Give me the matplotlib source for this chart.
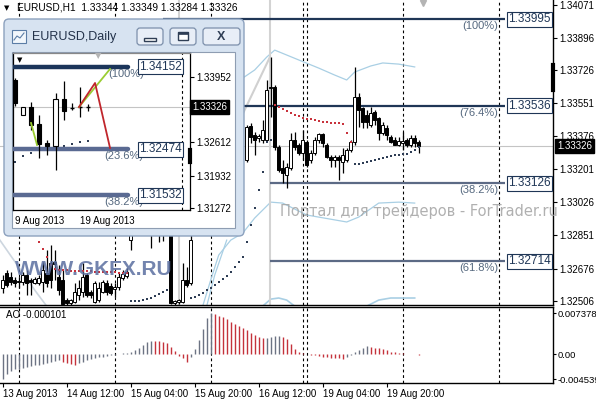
import numpy as np
import matplotlib
matplotlib.use('Agg')
import matplotlib.pyplot as plt
import matplotlib.transforms as mtransforms
from matplotlib.patches import Rectangle, FancyBboxPatch

plt.rcParams['font.family'] = ['Liberation Sans', 'DejaVu Sans']

N = np.nan

# ---------------- H1 candles (bar index 0..104), hidden bars under the inset are NaN
h1_open = [
    1.32573, 1.32652, 1.32631, 1.32615, 1.32610, 1.32604, 1.32641, 1.32615, 1.32599, 1.32599,
    1.32604, 1.32652, 1.32705, 1.32710, 1.32631, 1.32615, 1.32509, 1.32493, 1.32498, 1.32535,
    1.32551, 1.32641, 1.32551, 1.32498, 1.32509, 1.32551, 1.32599, 1.32583, 1.32567, 1.32578,
    1.32625, 1.32636, 1.32826, N, N, N, N, 1.32890, N, 1.32879,
    1.32906, N, 1.32922, 1.32493, 1.32498, 1.32498, 1.32615, 1.32599, N, N,
    N, N, N, N, N, N, N, N, N, N,
    N, 1.33250, 1.33429, 1.33382, 1.33366, 1.33355, 1.33355, 1.33630, 1.33636, 1.33318,
    1.33207, 1.33170, 1.33207, 1.33355, 1.33329, 1.33287, 1.33345, 1.33250, 1.33287, 1.33355,
    1.33387, 1.33329, 1.33266, 1.33250, 1.33266, 1.33239, 1.33250, 1.33303, 1.33345, 1.33583,
    1.33525, 1.33488, 1.33435, 1.33504, 1.33472, 1.33392, 1.33419, 1.33371, 1.33355, 1.33329,
    1.33340, 1.33355, 1.33329, 1.33366, 1.33345,
]
h1_high = [
    1.32641, 1.32668, 1.32657, 1.32631, 1.32631, 1.32657, 1.32668, 1.32625, 1.32631, 1.32641,
    1.32710, 1.32774, 1.32800, 1.32774, 1.32694, 1.32668, 1.32520, 1.32514, 1.32599, 1.32615,
    1.32705, 1.32652, 1.32562, 1.32610, 1.32604, 1.32615, 1.32615, 1.32599, 1.32599, 1.32652,
    1.32668, 1.32678, 1.32906, N, N, N, N, 1.32959, N, 1.32959,
    1.32959, N, 1.32959, 1.32509, 1.32514, 1.32705, 1.32684, 1.32906, N, N,
    N, N, N, N, N, N, N, N, N, N,
    N, 1.33435, 1.33445, 1.33398, 1.33387, 1.33461, 1.33673, 1.33794, 1.33646, 1.33329,
    1.33250, 1.33234, 1.33392, 1.33398, 1.33340, 1.33408, 1.33355, 1.33303, 1.33371, 1.33392,
    1.33392, 1.33340, 1.33276, 1.33276, 1.33276, 1.33313, 1.33313, 1.33355, 1.33742, 1.33604,
    1.33530, 1.33514, 1.33530, 1.33514, 1.33477, 1.33451, 1.33435, 1.33382, 1.33371, 1.33371,
    1.33398, 1.33366, 1.33382, 1.33382, 1.33355,
]
h1_low = [
    1.32546, 1.32578, 1.32588, 1.32578, 1.32573, 1.32588, 1.32535, 1.32535, 1.32594, 1.32588,
    1.32551, 1.32578, 1.32573, 1.32615, 1.32535, 1.32483, 1.32483, 1.32483, 1.32493, 1.32509,
    1.32525, 1.32525, 1.32520, 1.32493, 1.32498, 1.32546, 1.32535, 1.32535, 1.32525, 1.32562,
    1.32615, 1.32625, 1.32774, N, N, N, N, 1.32784, N, 1.32816,
    1.32821, N, 1.32488, 1.32483, 1.32488, 1.32493, 1.32578, 1.32588, N, N,
    N, N, N, N, N, N, N, N, N, N,
    N, 1.33239, 1.33340, 1.33276, 1.33345, 1.33340, 1.33355, 1.33477, 1.33303, 1.33186,
    1.33128, 1.33101, 1.33197, 1.33303, 1.33276, 1.33250, 1.33213, 1.33234, 1.33276, 1.33340,
    1.33318, 1.33260, 1.33213, 1.33213, 1.33144, 1.33181, 1.33239, 1.33292, 1.33329, 1.33424,
    1.33419, 1.33419, 1.33424, 1.33435, 1.33355, 1.33382, 1.33355, 1.33340, 1.33329, 1.33324,
    1.33303, 1.33318, 1.33318, 1.33318, 1.33287,
]
h1_close = [
    1.32615, 1.32588, 1.32604, 1.32599, 1.32604, 1.32641, 1.32599, 1.32604, 1.32620, 1.32625,
    1.32668, 1.32599, 1.32615, 1.32699, 1.32562, 1.32488, 1.32493, 1.32509, 1.32551, 1.32573,
    1.32631, 1.32535, 1.32535, 1.32599, 1.32573, 1.32604, 1.32551, 1.32546, 1.32578, 1.32631,
    1.32647, 1.32657, 1.32890, N, N, N, N, 1.32869, N, 1.32906,
    1.32869, N, 1.32493, 1.32504, 1.32509, 1.32615, 1.32588, 1.32826, N, N,
    N, N, N, N, N, N, N, N, N, N,
    N, 1.33424, 1.33371, 1.33355, 1.33377, 1.33408, 1.33620, 1.33636, 1.33318, 1.33197,
    1.33181, 1.33213, 1.33355, 1.33318, 1.33287, 1.33355, 1.33223, 1.33287, 1.33355, 1.33387,
    1.33340, 1.33266, 1.33250, 1.33266, 1.33250, 1.33276, 1.33303, 1.33345, 1.33583, 1.33514,
    1.33451, 1.33451, 1.33498, 1.33461, 1.33392, 1.33435, 1.33382, 1.33345, 1.33329, 1.33350,
    1.33350, 1.33329, 1.33366, 1.33340, 1.33326,
]

# Parabolic SAR dots
sar_red = [
    N, N, N, N, N, N, N, N, N, 1.32816,
    1.32779, 1.32737, 1.32694, 1.32673, 1.32668, 1.32668, 1.32668, 1.32662, 1.32662, 1.32662,
    1.32662, 1.32662, 1.32662, 1.32657, 1.32657, 1.32657, 1.32657, 1.32657, 1.32657, 1.32652,
    1.32652, 1.32652, N, N, N, N, N, N, N, N,
    N, N, N, N, N, N, N, N, N, N,
    N, N, N, N, N, N, N, N, N, N,
    N, N, N, N, N, N, N, N, 1.33541, 1.33530,
    1.33519, 1.33509, 1.33498, 1.33488, 1.33480, 1.33474, 1.33469, 1.33467, 1.33461, 1.33456,
    1.33453, 1.33451, 1.33448, 1.33445, 1.33443, 1.33440, 1.33392, 1.33345, N, N,
    N, N, N, N, N, N, N, N, N, N,
    N, N, N, N, N,
]
sar_blue = [
    N, N, N, N, N, N, N, N, N, N,
    N, N, N, N, N, N, N, N, N, N,
    N, N, N, N, N, N, N, N, N, N,
    N, N, 1.32504, 1.32504, 1.32504, 1.32509, 1.32514, 1.32520, 1.32530, 1.32541,
    1.32551, 1.32562, N, N, N, N, N, 1.32520, 1.32525, 1.32535,
    1.32546, 1.32562, 1.32573, 1.32588, 1.32604, 1.32620, 1.32636, 1.32657, 1.32684, 1.32710,
    1.32737, 1.32816, 1.32906, 1.32996, 1.33090, 1.33186, 1.33345, 1.33355, N, N,
    N, N, N, N, N, N, N, N, N, N,
    N, N, N, N, N, N, N, N, 1.33228, 1.33231,
    1.33234, 1.33239, 1.33244, 1.33250, 1.33255, 1.33260, 1.33266, 1.33271, 1.33274, 1.33276,
    1.33279, 1.33281, 1.33292, 1.33303, 1.33318,
]

# light blue bands (bar, price)
band_up_x = [60, 63, 66, 68, 71, 74, 79, 83, 86, 88, 92, 95, 99, 103]
band_up_y = [1.33683, 1.33726, 1.33794, 1.33831, 1.33805, 1.33779, 1.33736, 1.33699,
             1.33673, 1.33715, 1.33747, 1.33763, 1.33757, 1.33742]
band_lo_x = [50, 52, 54, 57, 60, 63, 67, 70, 76, 86, 89, 94, 99, 103]
band_lo_y = [1.32477, 1.32615, 1.32747, 1.32826, 1.32863, 1.32943, 1.33027, 1.33022,
             1.32959, 1.32922, 1.32948, 1.33022, 1.33027, 1.33022]
band_b_x = [51, 53, 56]
band_b_y = [1.32477, 1.32641, 1.32826]
band_f1_x = [65, 67, 69, 71, 73]
band_f1_y = [1.32477, 1.32514, 1.32520, 1.32509, 1.32477]
band_f2_x = [91, 94, 97, 100, 103]
band_f2_y = [1.32477, 1.32509, 1.32520, 1.32520, 1.32520]
band_ll_x = [-0.7, 8, 11]
band_ll_y = [1.32826, 1.32562, 1.32477]

# Awesome Oscillator
ao = [
    -0.004539, -0.00352, -0.00306, -0.00278, -0.00261, -0.00244, -0.00233, -0.00216, -0.00204, -0.00193,
    -0.00176, -0.00165, -0.00148, -0.00131, -0.00108, -0.00136, -0.00165, -0.00182, -0.00193, -0.00170,
    -0.00142, -0.00114, -0.00091, -0.00074, -0.00057, -0.00045, -0.00034, -0.00023, -0.00011, 0.00006,
    0.00011, 0.00017, 0.00045, 0.00068, 0.00114, 0.00170, 0.00216, 0.00238, 0.00233, 0.00227,
    0.00221, 0.00204, 0.00125, 0.00057, -0.00028, -0.00079, -0.00136, -0.00045, 0.00085, 0.00255,
    0.00454, 0.00653, 0.007378, 0.00715, 0.00687, 0.00658, 0.00624, 0.00585, 0.00545, 0.00505,
    0.00465, 0.00426, 0.00386, 0.00341, 0.00306, 0.00284, 0.00295, 0.00312, 0.00323, 0.00329,
    0.00312, 0.00272, 0.00187, 0.00085, 0.00034, 0.00011, 0.00006, -0.00011, -0.00023, -0.00034,
    -0.00045, -0.00057, -0.00068, -0.00074, -0.00079, -0.00085, -0.00045, -0.00011, 0.00034, 0.00074,
    0.00114, 0.00142, 0.00125, 0.00114, 0.00102, 0.00085, 0.00068, 0.00045, 0.00028, 0.00017,
    0.00011, 0.00006, 0.00005, 0.00003, -0.000101,
]

# Fibonacci levels on H1
fib_levels = [1.33995, 1.33536, 1.33126, 1.32714]
fib_names = ['(100%)', '(76.4%)', '(38.2%)', '(61.8%)']
fib_start = [40, 40, 66.8, 66.8]
fib_end = 125.6
fib_trend_x = [55, 66.8]
fib_trend_y = [1.33271, 1.33794]
fib_vert = [44, 66.8]

sep_bars = [4, 28, 52, 75, 76, 100, 124]
time_bars = [0, 16, 32, 48, 64, 80, 96]
time_labels = ['13 Aug 2013', '14 Aug 12:00', '15 Aug 04:00', '15 Aug 20:00',
               '16 Aug 12:00', '19 Aug 04:00', '19 Aug 20:00']
price_ticks = [1.34071, 1.33896, 1.33726, 1.33551, 1.33376, 1.33201, 1.33026,
               1.32851, 1.32676, 1.32506]
ao_ticks = [0.007378, 0.0, -0.004539]
ao_tick_labels = ['0.007378', '0.00', '-0.004539']
last_price = 1.33326

# ---------------- Daily inset
d_open = [1.33885, 1.33171, 1.33334, 1.32987, 1.32599, 1.32538, 1.33497, 1.33334, 1.33313, 1.33334]
d_high = [1.33926, 1.33334, 1.33436, 1.33171, 1.32660, 1.33620, 1.33865, 1.33415, 1.33742, 1.33395]
d_low = [1.33354, 1.33171, 1.32864, 1.32293, 1.32354, 1.32048, 1.33069, 1.33273, 1.33130, 1.33252]
d_close = [1.33415, 1.33334, 1.32966, 1.32579, 1.32538, 1.33497, 1.33252, 1.33313, 1.33334, 1.33326]
d_sar = [1.32211, 1.32334, 1.32395, 1.32456, 1.32497, 1.32517, 1.32538, 1.32579, 1.32619, 1.32640]
d_fib_levels = [1.34152, 1.32474, 1.31532]
d_fib_names = ['(100%)', '(23.6%)', '(38.2%)']
d_ticks = [1.33952, 1.32612, 1.31932, 1.31272]
d_green1_x, d_green1_y = [1.98, 2.72], [1.33007, 1.32558]
d_green2_x, d_green2_y = [7.9, 11.73], [1.33334, 1.34109]
d_red_x, d_red_y = [7.9, 9.88, 11.73], [1.33334, 1.33824, 1.32497]

W, H = 596, 400


def fx(x):
    return x / W


def fy(y):
    return 1 - y / H


def candles(a, o, h, l, c, width, minh, lw_body=0.7):
    for i in range(len(o)):
        if np.isnan(o[i]):
            continue
        a.vlines(i, l[i], h[i], color='black', lw=0.9, zorder=3)
        lo = min(o[i], c[i])
        hgt = abs(c[i] - o[i])
        if hgt < minh:
            a.hlines(c[i], i - width / 2, i + width / 2, color='black', lw=1.0, zorder=4)
        else:
            a.bar(i, hgt, width, lo, color='black' if c[i] < o[i] else 'white',
                  edgecolor='black', lw=lw_body, zorder=4)


fig = plt.figure(figsize=(W / 100, H / 100), dpi=100)
fig.patch.set_facecolor('white')

# ---------------- main H1 chart
ax = fig.add_axes([0, fy(305), fx(553), 305 / H])
ax.set_xlim(-0.675, 137.575)
ax.set_ylim(1.32483, 1.34096)
for s in ['top', 'left']:
    ax.spines[s].set_visible(False)
ax.spines['right'].set_linewidth(1.0)
ax.spines['bottom'].set_linewidth(1.0)
ax.set_xticks([])
ax.yaxis.tick_right()
ax.set_yticks(price_ticks)
ax.set_yticklabels([f'{v:.5f}' for v in price_ticks])
ax.tick_params(axis='y', length=3, width=0.8, labelsize=7, pad=1.2)

ax.axhline(last_price, color='#c4c4c4', lw=0.8, zorder=1)
for v in sep_bars:
    ax.axvline(v, color='black', lw=0.8, ls=(0, (2.5, 2.5)), zorder=2)

bc = '#a9cfe4'
ax.plot(band_up_x, band_up_y, color=bc, lw=0.9, zorder=2)
ax.plot(band_lo_x, band_lo_y, color=bc, lw=0.9, zorder=2)
ax.plot(band_b_x, band_b_y, color=bc, lw=0.9, zorder=2)
ax.plot(band_f1_x, band_f1_y, color=bc, lw=1.2, zorder=2)
ax.plot(band_f2_x, band_f2_y, color=bc, lw=1.2, zorder=2)
ax.plot(band_ll_x, band_ll_y, color='#cdd6df', lw=1.2, zorder=2)

# fibonacci trend + verticals
ax.plot(fib_trend_x, fib_trend_y, color='#d0d0d0', lw=1.5, zorder=2)
for v in fib_vert:
    ax.axvline(v, color='#d3d3d3', lw=1.5, zorder=2)

fib_colors = ['#1f3656', '#1f3656', '#5c6a85', '#5c6a85']
for lev, name, x0, col in zip(fib_levels, fib_names, fib_start, fib_colors):
    ax.hlines(lev, x0, fib_end, color=col, lw=1.6, zorder=3)
    ax.annotate(name, (123.8, lev), xytext=(0, -1.5), textcoords='offset points',
                ha='right', va='top', fontsize=8, color='#55687f', zorder=6)
    ax.text(126.4, lev, f'{lev:.5f}', ha='left', va='center', fontsize=8.5,
            color='#1f3656', zorder=7,
            bbox=dict(boxstyle='square,pad=0.12', fc='white', ec='#1f3656', lw=0.8))

candles(ax, h1_open, h1_high, h1_low, h1_close, 0.72, 0.00004)
xs = np.arange(len(sar_red))
ax.plot(xs, sar_red, 's', ms=2.0, mew=0, color='#c8323c', zorder=5)
ax.plot(xs, sar_blue, 's', ms=2.0, mew=0, color='#2e3d55', zorder=5)

# current price label on the axis
trans = mtransforms.blended_transform_factory(ax.transAxes, ax.transData)
ax.text(1.008, last_price, f'{last_price:.5f}', transform=trans, ha='left', va='center',
        fontsize=7, color='white', zorder=8, clip_on=False,
        bbox=dict(boxstyle='square,pad=0.2', fc='black', ec='black'))
ax.plot([1.0, 1.0], [1.33752, 1.33620], transform=trans, color='black', lw=3,
        clip_on=False, zorder=8)
trans_x = mtransforms.blended_transform_factory(ax.transData, ax.transAxes)
ax.plot([105], [0.99], 'v', ms=5, color='#b4b4b4', transform=trans_x, clip_on=False)

# ---------------- AO panel
aox = fig.add_axes([0, fy(383), fx(553), 76 / H])
aox.set_xlim(-0.675, 137.575)
aox.set_ylim(-0.00522, 0.00846)
aox.spines['left'].set_visible(False)
for s in ['top', 'right', 'bottom']:
    aox.spines[s].set_linewidth(1.0)
aox.yaxis.tick_right()
aox.set_yticks(ao_ticks)
aox.set_yticklabels(ao_tick_labels)
aox.tick_params(axis='y', length=2, width=0.8, labelsize=6.8, pad=1)
aox.set_xticks(time_bars)
aox.set_xticklabels(time_labels)
aox.tick_params(axis='x', length=3, width=0.8, labelsize=7, pad=1.5)
for t in aox.get_xticklabels():
    t.set_ha('left')
for v in sep_bars:
    aox.axvline(v, color='black', lw=0.8, ls=(0, (2.5, 2.5)), zorder=1)
ao_arr = np.array(ao)
ao_x = np.arange(len(ao_arr))
ao_col = ['#6c7383' if (i == 0 or ao_arr[i] > ao_arr[i - 1]) else '#c4323b'
          for i in range(len(ao_arr))]
aox.vlines(ao_x, 0, ao_arr, colors=ao_col, lw=1.0, zorder=3)
aox.text(0.011, 0.9, f'AO {ao_arr[-1]:.6f}', transform=aox.transAxes, fontsize=7,
         va='center', ha='left')

# ---------------- inset window chrome
ui = fig.add_axes([0, 0, 1, 1], zorder=5)
ui.set_xlim(0, W)
ui.set_ylim(H, 0)
ui.axis('off')
ui.patch.set_alpha(0)
ui.add_patch(FancyBboxPatch((4, 19), 240, 217, boxstyle='round,pad=0,rounding_size=5',
                            fc='#d7e3f1', ec='#8ca1be', lw=1))
ui.add_patch(Rectangle((12, 52), 223, 176, fc='white', ec='#8e9db2', lw=0.8))
ui.add_patch(Rectangle((12, 30), 14, 13, fc='#f2f7fc', ec='#5b7da6', lw=0.8))
ui.plot([14, 17, 20, 24], [40, 36, 38, 33], color='#5b7da6', lw=0.8)
ui.text(32, 37, 'EURUSD,Daily', fontsize=9, va='center', ha='left', color='#23324a')
for bx, bw in [(137, 26), (170, 26), (203, 37)]:
    ui.add_patch(FancyBboxPatch((bx, 28), bw, 17, boxstyle='round,pad=0,rounding_size=3',
                                fc='#e8eef7', ec='#7c8fab', lw=0.9))
ui.add_patch(Rectangle((144, 37.5), 12, 3.5, fc='white', ec='#2f3e55', lw=1))
ui.add_patch(Rectangle((178, 31.5), 10, 8.5, fc='white', ec='#2f3e55', lw=1))
ui.add_patch(Rectangle((178, 31.5), 10, 2, fc='#2f3e55', ec='#2f3e55', lw=0.5))
ui.text(221.5, 37, 'X', fontsize=9, fontweight='bold', ha='center', va='center',
        color='#2f3e55')

# ---------------- inset daily chart
ins = fig.add_axes([fx(13), fy(210), fx(177), 157 / H], zorder=6)
ins.set_xlim(-0.247, 21.6)
ins.set_ylim(1.31231, 1.34436)
for s in ins.spines.values():
    s.set_linewidth(0.9)
ins.spines['top'].set_color('#888888')
ins.yaxis.tick_right()
ins.set_yticks(d_ticks)
ins.set_yticklabels([f'{v:.5f}' for v in d_ticks])
ins.tick_params(axis='y', length=3, width=0.8, labelsize=7, pad=1.5)
ins.set_xticks([0, 8])
ins.set_xticklabels(['9 Aug 2013', '19 Aug 2013'])
ins.tick_params(axis='x', length=0, labelsize=7, pad=4)
for t in ins.get_xticklabels():
    t.set_ha('left')
ins.axhline(last_price, color='#c4c4c4', lw=0.8, zorder=1)
ins.axvline(20.6, color='black', lw=0.8, ls=(0, (2.5, 2.5)), zorder=2)

d_cols = ['#1b355a', '#5a6a92', '#5a6a92']
for lev, name, col in zip(d_fib_levels, d_fib_names, d_cols):
    ins.hlines(lev, -0.3, 13.95, color=col, lw=3.2, zorder=3, capstyle='round')
    ins.annotate(name, (15.9, lev), xytext=(0, -1.5), textcoords='offset points',
                 ha='right', va='top', fontsize=8, color='#55687f', zorder=6)
    ins.text(15.3, lev, f'{lev:.5f}', ha='left', va='center', fontsize=8.5,
             color='#1f3656', zorder=7,
             bbox=dict(boxstyle='square,pad=0.12', fc='white', ec='#1f3656', lw=0.8))

ins.plot(np.arange(len(d_sar)), d_sar, 's', ms=2.0, mew=0, color='#2e3d55', zorder=2)
candles(ins, d_open, d_high, d_low, d_close, 0.5, 0.00025, lw_body=0.8)
ins.plot(d_green1_x, d_green1_y, color='#9acd32', lw=1.3, zorder=5)
ins.plot(d_green2_x, d_green2_y, color='#9acd32', lw=1.3, zorder=5)
ins.plot(d_red_x, d_red_y, color='#c0262c', lw=1.3, zorder=5)

itrans = mtransforms.blended_transform_factory(ins.transAxes, ins.transData)
ins.text(1.012, last_price, f'{last_price:.5f}', transform=itrans, ha='left', va='center',
         fontsize=7, color='white', zorder=8, clip_on=False,
         bbox=dict(boxstyle='square,pad=0.2', fc='black', ec='black'))
ins.plot([1.0, 1.0], [1.32456, 1.32211], transform=itrans, color='black', lw=3,
         clip_on=False, zorder=8)
ins.text(0.04, 0.955, '\u25bc', transform=ins.transAxes, fontsize=5, ha='center',
         va='center', family='DejaVu Sans')
ins.text(0.48, 0.985, '\u25bc', transform=ins.transAxes, fontsize=6, ha='center',
         va='center', color='#b4b4b4', family='DejaVu Sans')

# ---------------- header and watermarks
fig.text(fx(6.5), fy(8.5), '\u25bc', fontsize=5, va='center', ha='center',
         family='DejaVu Sans', zorder=7)
fig.text(fx(17), fy(8), 'EURUSD,H1  1.33344 1.33349 1.33284 1.33326', fontsize=7.3,
         va='center', ha='left', zorder=7)
fig.text(fx(15), fy(275), 'WWW.GKFX.RU', fontsize=15, fontweight='bold',
         color='#5b6fa0', alpha=0.85, va='baseline', ha='left', zorder=8)
fig.text(fx(280), fy(216), 'Портал для трейдеров - ForTrader.ru', fontsize=10.5,
         family='DejaVu Sans', color='#a8a8a8', alpha=0.9, va='baseline', ha='left',
         zorder=9)

fig.savefig('out.png', dpi=100)
